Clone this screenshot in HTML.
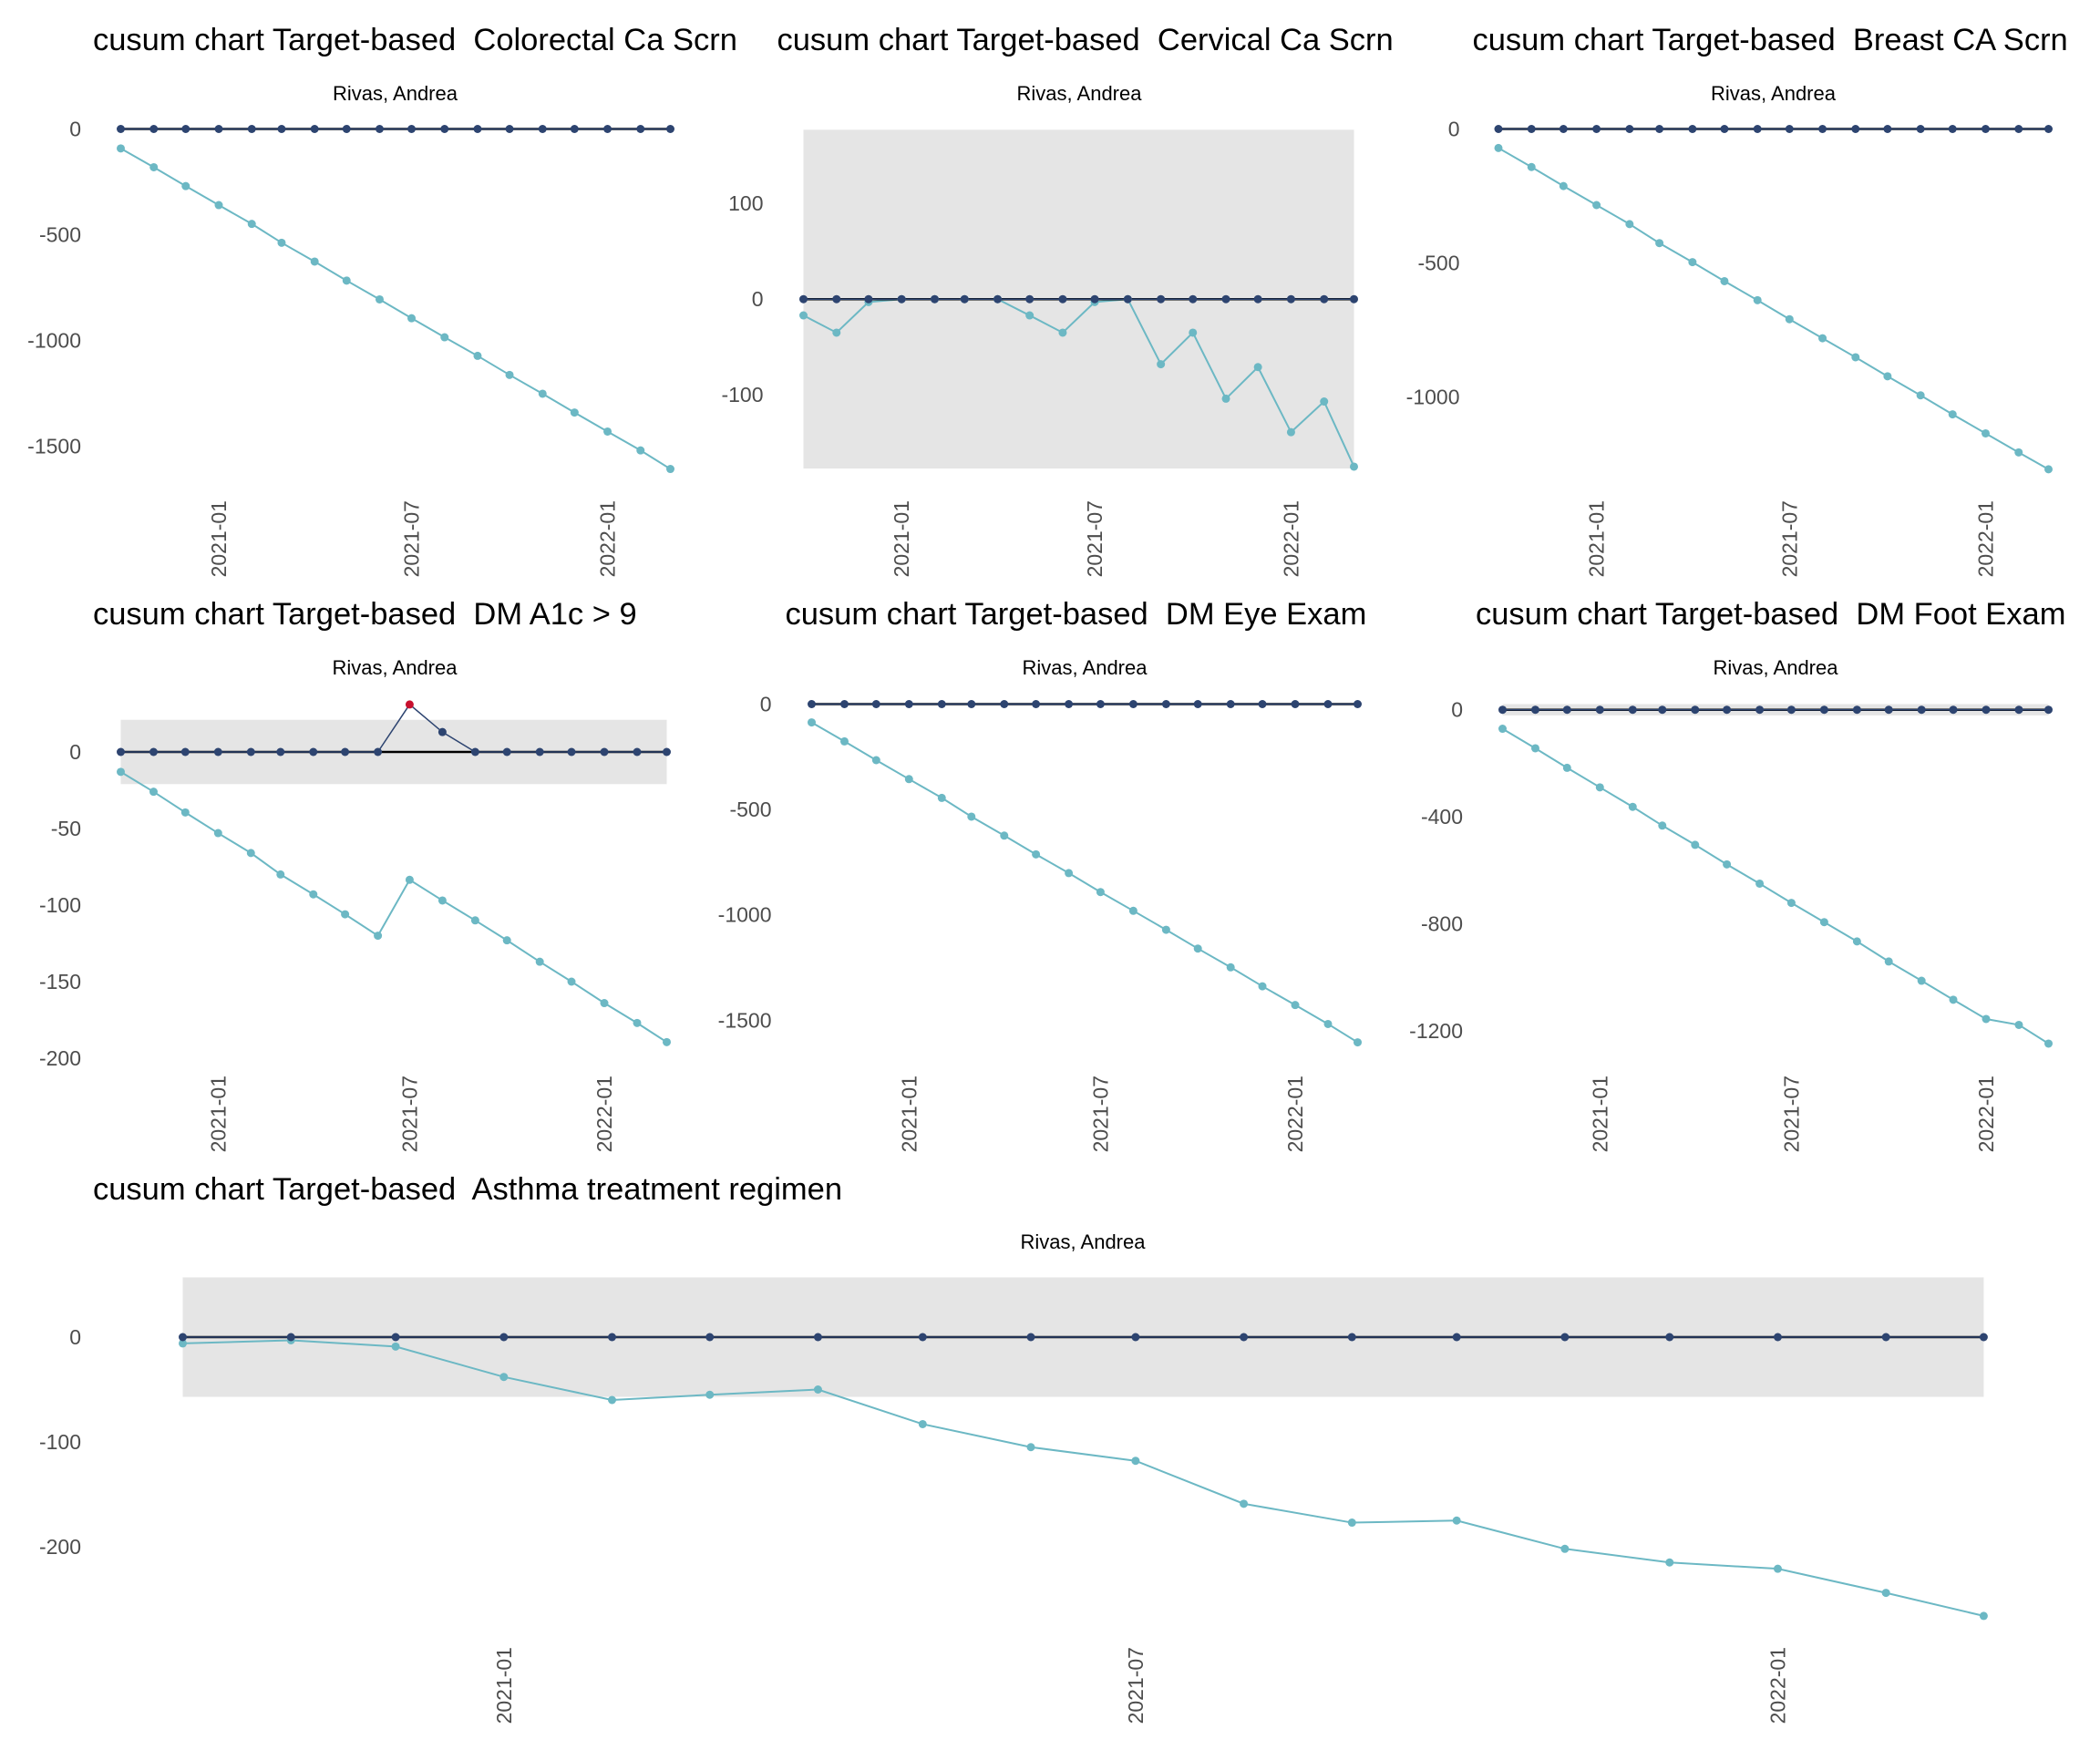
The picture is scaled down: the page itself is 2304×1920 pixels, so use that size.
<!DOCTYPE html>
<html><head><meta charset="utf-8"><style>
html,body{margin:0;padding:0;background:#fff;}
svg{display:block;font-family:"Liberation Sans",Arial,sans-serif;}
svg text{white-space:pre;}
</style></head><body>
<svg id="chart" width="2304" height="1920" viewBox="0 0 2304 1920" xmlns="http://www.w3.org/2000/svg" xml:space="preserve"></svg>
<script>
// ---- data ----
const dates = ["2020-10-01","2020-11-01","2020-12-01","2021-01-01","2021-02-01","2021-03-01","2021-04-01","2021-05-01","2021-06-01","2021-07-01","2021-08-01","2021-09-01","2021-10-01","2021-11-01","2021-12-01","2022-01-01","2022-02-01","2022-03-01"];
const xTickDates = ["2021-01-01","2021-07-01","2022-01-01"];
const xTickLabels = ["2021-01","2021-07","2022-01"];
const titles = ["cusum chart Target-based  Colorectal Ca Scrn","cusum chart Target-based  Cervical Ca Scrn","cusum chart Target-based  Breast CA Scrn","cusum chart Target-based  DM A1c > 9","cusum chart Target-based  DM Eye Exam","cusum chart Target-based  DM Foot Exam","cusum chart Target-based  Asthma treatment regimen"];
const subtitle = "Rivas, Andrea";
const zeros18 = [0,0,0,0,0,0,0,0,0,0,0,0,0,0,0,0,0,0];
const upperA1c = [0,0,0,0,0,0,0,0,0,31,13,0,0,0,0,0,0,0];
const alertA1c = [false,false,false,false,false,false,false,false,false,true,false,false,false,false,false,false,false,false];
const lowerColorectal = [-92,-181,-270,-360,-449,-538,-627,-717,-806,-895,-985,-1073,-1163,-1252,-1341,-1431,-1520,-1608];
const lowerCervical = [-17,-35,-3,0,0,0,0,-17,-35,-3,0,-68,-35,-104,-71,-139,-107,-175];
const lowerBreast = [-71,-142,-213,-284,-355,-426,-497,-568,-639,-710,-781,-852,-923,-994,-1065,-1136,-1207,-1270];
const lowerA1c = [-13,-26,-39.5,-53,-66,-80,-93,-106,-120,-83.5,-97,-110,-123,-137,-150,-164,-177,-189.5];
const lowerEye = [-87,-177,-266,-356,-445,-534,-624,-713,-802,-892,-981,-1071,-1160,-1249,-1339,-1428,-1518,-1605];
const lowerFoot = [-71,-144,-217,-290,-363,-433,-505,-578,-650,-722,-794,-866,-941,-1013,-1084,-1156,-1178,-1248];
const lowerAsthma = [-6,-3,-9,-38,-60,-55,-50,-83,-105,-118,-159,-177,-175,-202,-215,-221,-244,-266];
const ticksColorectal = [0,-500,-1000,-1500];
const ticksCervical = [100,0,-100];
const ticksBreast = [0,-500,-1000];
const ticksA1c = [0,-50,-100,-150,-200];
const ticksEye = [0,-500,-1000,-1500];
const ticksFoot = [0,-400,-800,-1200];
const ticksAsthma = [0,-100,-200];
const bandCervical = 177, bandA1c = 21, bandFoot = 21, bandAsthma = 57;

// ---- layout (positions only) ----
const panels = [
 {name:"colorectal", title:titles[0], upper:zeros18, lower:lowerColorectal, ticks:ticksColorectal, band:null, x0:132.5,x1:735.5, zy:141.5, k:0.232, tx:89, titleX:102, titleY:55, subX:433.5, subY:110, labTop:549},
 {name:"cervical", title:titles[1], upper:zeros18, lower:lowerCervical, ticks:ticksCervical, band:bandCervical, x0:881.5,x1:1485.5, zy:328.2, k:1.05, tx:837.5, titleX:852.5, titleY:55, subX:1184, subY:110, labTop:549},
 {name:"breast", title:titles[2], upper:zeros18, lower:lowerBreast, ticks:ticksBreast, band:null, x0:1644,x1:2247.5, zy:141.5, k:0.294, tx:1601.5, titleX:1615.5, titleY:55, subX:1945.5, subY:110, labTop:549},
 {name:"a1c", title:titles[3], upper:upperA1c, alert:alertA1c, lower:lowerA1c, ticks:ticksA1c, band:bandA1c, x0:132.5,x1:731.5, zy:825, k:1.68, tx:89, titleX:102, titleY:685, subX:433, subY:740, labTop:1180},
 {name:"eye", title:titles[4], upper:zeros18, lower:lowerEye, ticks:ticksEye, band:null, x0:890.5,x1:1489.5, zy:772.5, k:0.2312, tx:846.5, titleX:861.5, titleY:685, subX:1190, subY:740, labTop:1180},
 {name:"foot", title:titles[5], upper:zeros18, lower:lowerFoot, ticks:ticksFoot, band:bandFoot, x0:1648.5,x1:2247.5, zy:778.7, k:0.2935, tx:1605, titleX:1619, titleY:685, subX:1948, subY:740, labTop:1180},
 {name:"asthma", title:titles[6], upper:zeros18, lower:lowerAsthma, ticks:ticksAsthma, band:bandAsthma, x0:200.5,x1:2176.4, zy:1467, k:1.15, tx:89, titleX:102, titleY:1316, subX:1188, subY:1370, labTop:1807}
];

const NS = "http://www.w3.org/2000/svg";
const svg = document.getElementById("chart");
function mk(tag, attrs, parent){ const e=document.createElementNS(NS,tag); for(const a in attrs) e.setAttribute(a,attrs[a]); (parent||svg).appendChild(e); return e; }
const t0 = Date.parse(dates[0]), t1 = Date.parse(dates[dates.length-1]);

panels.forEach(p=>{
  const g = mk("g",{});
  
  
  const xs = d => p.x0 + (Date.parse(d)-t0)/(t1-t0)*(p.x1-p.x0);
  const ys = v => p.zy - v*p.k;

  const tt = mk("text",{x:p.titleX,y:p.titleY,"font-size":34.5,fill:"#000"},g); tt.textContent=p.title;
  
  
  const st = mk("text",{x:p.subX,y:p.subY,"font-size":22,fill:"#000","text-anchor":"middle"},g); st.textContent=subtitle;
  
  

  if(p.band!==null){
    const r = mk("rect",{x:p.x0,y:ys(p.band),width:p.x1-p.x0,height:ys(-p.band)-ys(p.band),fill:"#e5e5e5"},g);
    
    
  }
  p.ticks.forEach(v=>{
    const t = mk("text",{x:p.tx,y:ys(v)+8,"font-size":23,fill:"#4d4d4d","text-anchor":"end"},g); t.textContent=String(v);
    
    
  });
  xTickDates.forEach((d,i)=>{
    const x = xs(d)+8;
    const t = mk("text",{x:x,y:p.labTop,"font-size":23,fill:"#4d4d4d","text-anchor":"end",transform:`rotate(-90 ${x} ${p.labTop})`},g); t.textContent=xTickLabels[i];
    
    
  });
  const lp = mk("polyline",{points:p.lower.map((v,i)=>xs(dates[i])+","+ys(v)).join(" "),fill:"none",stroke:"#6cb8c4","stroke-width":2},g);
  
  
  const zl = mk("line",{x1:p.x0,x2:p.x1,y1:ys(0),y2:ys(0),stroke:"#000","stroke-width":2.5},g);
  
  
  const up = mk("polyline",{points:p.upper.map((v,i)=>xs(dates[i])+","+ys(v)).join(" "),fill:"none",stroke:"#2d4470","stroke-width":1.5},g);
  
  
  p.lower.forEach((v,i)=>{
    const c = mk("circle",{cx:xs(dates[i]),cy:ys(v),r:4.5,fill:"#6cb8c4"},g);
    
    
  });
  p.upper.forEach((v,i)=>{
    const red = p.alert && p.alert[i];
    const c = mk("circle",{cx:xs(dates[i]),cy:ys(v),r:4.5,fill:red?"#c8102e":"#2d4470"},g);
    
    
  });
});
</script>
</body></html>
